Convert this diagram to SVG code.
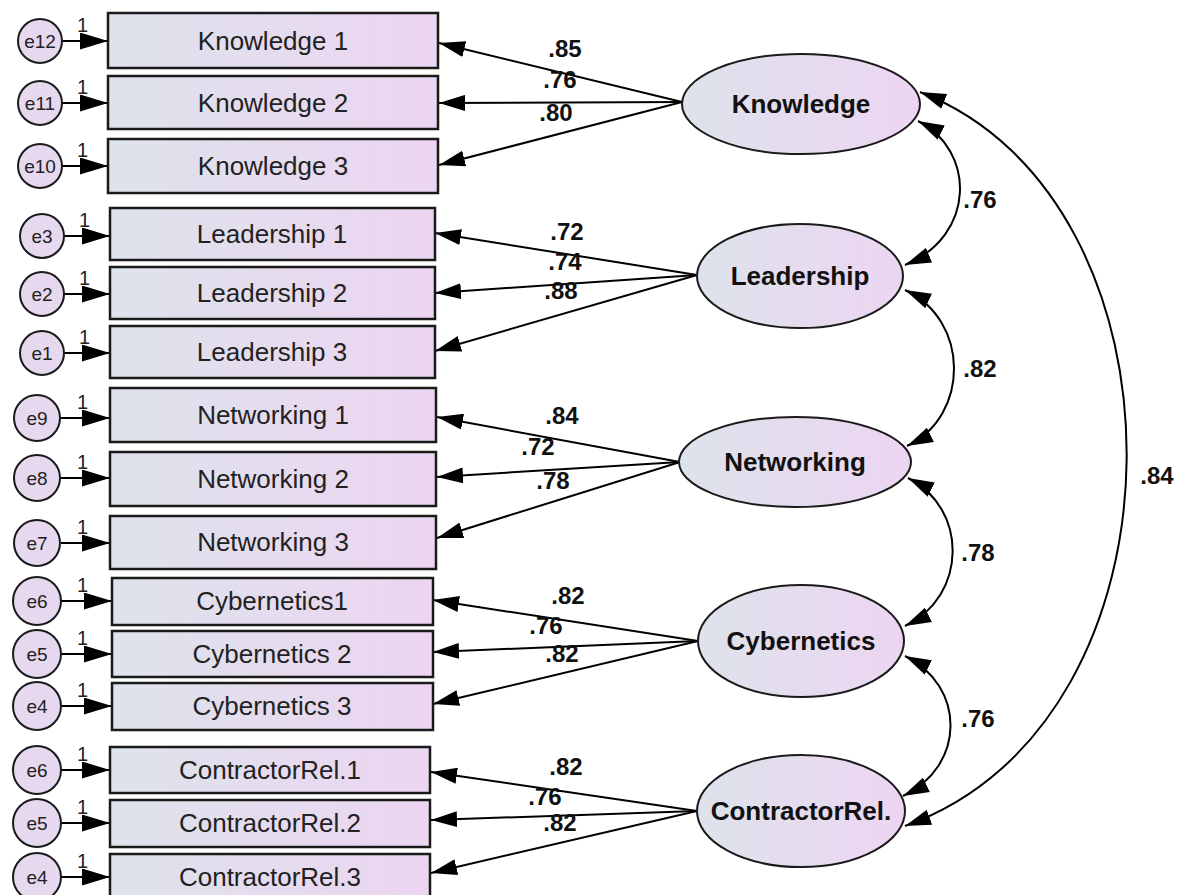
<svg xmlns="http://www.w3.org/2000/svg" width="1180" height="895" viewBox="0 0 1180 895">
<defs>
<linearGradient id="g" x1="0" y1="0" x2="1" y2="0">
<stop offset="0" stop-color="#dde3eb"/>
<stop offset="1" stop-color="#edd5f2"/>
</linearGradient>
<marker id="ah" viewBox="0 0 26 16" refX="26" refY="8" markerWidth="26" markerHeight="16" markerUnits="userSpaceOnUse" orient="auto-start-reverse">
<path d="M0,0 L26,8 L0,16 Z" fill="#000"/>
</marker>
<marker id="as" viewBox="0 0 28 17" refX="28" refY="8.5" markerWidth="28" markerHeight="17" markerUnits="userSpaceOnUse" orient="auto-start-reverse">
<path d="M0,0 L28,8.5 L0,17 Z" fill="#000"/>
</marker>
<marker id="ac" viewBox="0 0 26 16" refX="26" refY="8" markerWidth="26" markerHeight="16" markerUnits="userSpaceOnUse" orient="auto-start-reverse">
<path d="M0,0 L26,8 L0,16 Z" fill="#000"/>
</marker>
</defs>
<style>
.box{fill:url(#g);stroke:#1a1a1a;stroke-width:2.5}
.lat{fill:url(#g);stroke:#1a1a1a;stroke-width:2}
.err{fill:#e6d8ee;stroke:#1a1a1a;stroke-width:2}
.bt{font-family:"Liberation Sans",Arial,sans-serif;font-size:26px;fill:#222;text-anchor:middle}
.lt{font-family:"Liberation Sans",Arial,sans-serif;font-size:26px;font-weight:bold;fill:#111;text-anchor:middle}
.et{font-family:"Liberation Sans",Arial,sans-serif;font-size:19px;fill:#222;text-anchor:middle}
.one{font-family:"Liberation Sans",Arial,sans-serif;font-size:20px;fill:#222}
.wt{font-family:"Liberation Sans",Arial,sans-serif;font-size:24px;font-weight:bold;fill:#111;text-anchor:middle}
.c{fill:none;stroke:#000;stroke-width:2}
</style>
<rect width="1180" height="895" fill="#fff"/>

<g id="connectors">
<g class="c" marker-end="url(#as)">
<line x1="62" y1="41" x2="108" y2="41"/>
<line x1="62" y1="103" x2="108" y2="103"/>
<line x1="62" y1="166" x2="108" y2="166"/>
<line x1="64" y1="236" x2="110" y2="236"/>
<line x1="64" y1="294" x2="110" y2="294"/>
<line x1="64" y1="353" x2="110" y2="353"/>
<line x1="61" y1="418" x2="110" y2="418"/>
<line x1="61" y1="478" x2="110" y2="478"/>
<line x1="61" y1="543" x2="110" y2="543"/>
<line x1="61" y1="601" x2="112" y2="601"/>
<line x1="61" y1="654" x2="112" y2="654"/>
<line x1="61" y1="706" x2="112" y2="706"/>
<line x1="61" y1="770" x2="110" y2="770"/>
<line x1="61" y1="823" x2="110" y2="823"/>
<line x1="61" y1="877" x2="110" y2="877"/>
</g>
<g class="c" marker-end="url(#ah)">
<line x1="682" y1="102" x2="439" y2="43"/>
<line x1="682" y1="102" x2="439" y2="103"/>
<line x1="682" y1="102" x2="439" y2="165"/>
<line x1="697" y1="275" x2="435" y2="233"/>
<line x1="697" y1="275" x2="435" y2="293"/>
<line x1="697" y1="275" x2="435" y2="351"/>
<line x1="680" y1="462" x2="437" y2="417"/>
<line x1="680" y1="462" x2="437" y2="477"/>
<line x1="680" y1="462" x2="437" y2="538"/>
<line x1="698" y1="641" x2="433" y2="600"/>
<line x1="698" y1="641" x2="433" y2="652"/>
<line x1="698" y1="641" x2="433" y2="704"/>
<line x1="697" y1="811" x2="431" y2="772"/>
<line x1="697" y1="811" x2="431" y2="820"/>
<line x1="697" y1="811" x2="431" y2="873"/>
</g>
<g class="c" marker-start="url(#ac)" marker-end="url(#ac)">
<path d="M918,121 C976,150 976,236 905,265"/>
<path d="M905,290 C970,320 970,416 907,446"/>
<path d="M908,478 C968,508 968,596 905,626"/>
<path d="M905,656 C966,686 966,766 903,796"/>
<path d="M920,92 C1198,200 1198,722 905,826"/>
</g>
<g>
<text class="one" x="77" y="32">1</text>
<text class="one" x="77" y="94">1</text>
<text class="one" x="77" y="157">1</text>
<text class="one" x="79" y="227">1</text>
<text class="one" x="79" y="285">1</text>
<text class="one" x="79" y="344">1</text>
<text class="one" x="77" y="409">1</text>
<text class="one" x="77" y="469">1</text>
<text class="one" x="77" y="534">1</text>
<text class="one" x="77" y="592">1</text>
<text class="one" x="77" y="645">1</text>
<text class="one" x="77" y="697">1</text>
<text class="one" x="77" y="761">1</text>
<text class="one" x="77" y="814">1</text>
<text class="one" x="77" y="868">1</text>

<text class="wt" x="565" y="57">.85</text>
<text class="wt" x="560" y="88">.76</text>
<text class="wt" x="556" y="121">.80</text>
<text class="wt" x="567" y="240">.72</text>
<text class="wt" x="565" y="270">.74</text>
<text class="wt" x="561" y="299">.88</text>
<text class="wt" x="562" y="424">.84</text>
<text class="wt" x="538" y="455">.72</text>
<text class="wt" x="553" y="489">.78</text>
<text class="wt" x="568" y="604">.82</text>
<text class="wt" x="546" y="634">.76</text>
<text class="wt" x="562" y="662">.82</text>
<text class="wt" x="566" y="775">.82</text>
<text class="wt" x="545" y="805">.76</text>
<text class="wt" x="560" y="831">.82</text>

<text class="wt" x="980" y="208">.76</text>
<text class="wt" x="980" y="377">.82</text>
<text class="wt" x="978" y="561">.78</text>
<text class="wt" x="978" y="727">.76</text>
<text class="wt" x="1157" y="484">.84</text>
</g>
</g>

<g id="e12"><circle class="err" cx="40" cy="41" r="22"/><text class="et" x="40" y="48">e12</text></g>
<g id="e11"><circle class="err" cx="40" cy="103" r="22"/><text class="et" x="40" y="110">e11</text></g>
<g id="e10"><circle class="err" cx="40" cy="166" r="22"/><text class="et" x="40" y="173">e10</text></g>
<g id="e3"><circle class="err" cx="42" cy="236" r="22"/><text class="et" x="42" y="243">e3</text></g>
<g id="e2"><circle class="err" cx="42" cy="294" r="22"/><text class="et" x="42" y="301">e2</text></g>
<g id="e1"><circle class="err" cx="42" cy="353" r="22"/><text class="et" x="42" y="360">e1</text></g>
<g id="e9"><circle class="err" cx="37" cy="418" r="23"/><text class="et" x="37" y="425">e9</text></g>
<g id="e8"><circle class="err" cx="37" cy="478" r="23"/><text class="et" x="37" y="485">e8</text></g>
<g id="e7"><circle class="err" cx="37" cy="543" r="23"/><text class="et" x="37" y="550">e7</text></g>
<g id="e6a"><circle class="err" cx="37" cy="601" r="24"/><text class="et" x="37" y="608">e6</text></g>
<g id="e5a"><circle class="err" cx="37" cy="654" r="24"/><text class="et" x="37" y="661">e5</text></g>
<g id="e4a"><circle class="err" cx="37" cy="706" r="24"/><text class="et" x="37" y="713">e4</text></g>
<g id="e6b"><circle class="err" cx="37" cy="770" r="24"/><text class="et" x="37" y="777">e6</text></g>
<g id="e5b"><circle class="err" cx="37" cy="823" r="24"/><text class="et" x="37" y="830">e5</text></g>
<g id="e4b"><circle class="err" cx="37" cy="877" r="24"/><text class="et" x="37" y="884">e4</text></g>

<g id="k1"><rect class="box" x="108" y="13" width="330" height="55"/><text class="bt" x="273" y="50">Knowledge 1</text></g>
<g id="k2"><rect class="box" x="108" y="76" width="330" height="53"/><text class="bt" x="273" y="112">Knowledge 2</text></g>
<g id="k3"><rect class="box" x="108" y="139" width="330" height="54"/><text class="bt" x="273" y="175">Knowledge 3</text></g>
<g id="l1"><rect class="box" x="110" y="208" width="325" height="52"/><text class="bt" x="272" y="243">Leadership 1</text></g>
<g id="l2"><rect class="box" x="110" y="267" width="325" height="52"/><text class="bt" x="272" y="302">Leadership 2</text></g>
<g id="l3"><rect class="box" x="110" y="326" width="325" height="52"/><text class="bt" x="272" y="361">Leadership 3</text></g>
<g id="n1"><rect class="box" x="110" y="388" width="326" height="54"/><text class="bt" x="273" y="424">Networking 1</text></g>
<g id="n2"><rect class="box" x="110" y="452" width="326" height="54"/><text class="bt" x="273" y="488">Networking 2</text></g>
<g id="n3"><rect class="box" x="110" y="516" width="326" height="53"/><text class="bt" x="273" y="551">Networking 3</text></g>
<g id="c1"><rect class="box" x="112" y="578" width="321" height="47"/><text class="bt" x="272" y="610">Cybernetics1</text></g>
<g id="c2"><rect class="box" x="112" y="631" width="321" height="46"/><text class="bt" x="272" y="663">Cybernetics 2</text></g>
<g id="c3"><rect class="box" x="112" y="683" width="321" height="47"/><text class="bt" x="272" y="715">Cybernetics 3</text></g>
<g id="r1"><rect class="box" x="110" y="747" width="320" height="46"/><text class="bt" x="270" y="779">ContractorRel.1</text></g>
<g id="r2"><rect class="box" x="110" y="800" width="320" height="47"/><text class="bt" x="270" y="832">ContractorRel.2</text></g>
<g id="r3"><rect class="box" x="110" y="854" width="320" height="50"/><text class="bt" x="270" y="886">ContractorRel.3</text></g>

<g id="Knowledge"><ellipse class="lat" cx="801" cy="104" rx="119" ry="50"/><text class="lt" x="801" y="113">Knowledge</text></g>
<g id="Leadership"><ellipse class="lat" cx="800" cy="276" rx="103" ry="52"/><text class="lt" x="800" y="285">Leadership</text></g>
<g id="Networking"><ellipse class="lat" cx="795" cy="462" rx="116" ry="45"/><text class="lt" x="795" y="471">Networking</text></g>
<g id="Cybernetics"><ellipse class="lat" cx="801" cy="641" rx="103" ry="56"/><text class="lt" x="801" y="650">Cybernetics</text></g>
<g id="ContractorRel"><ellipse class="lat" cx="801" cy="811" rx="104" ry="56"/><text class="lt" x="801" y="820">ContractorRel.</text></g>
</svg>
